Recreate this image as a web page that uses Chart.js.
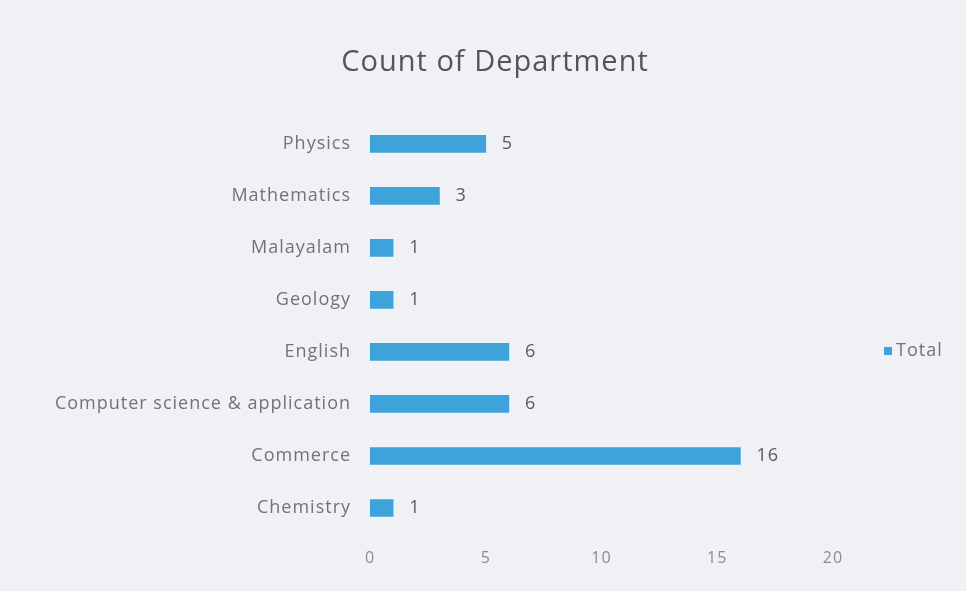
<!DOCTYPE html>
<html>
<head>
<meta charset="utf-8">
<script src="https://cdn.jsdelivr.net/npm/chart.js@4.4.0/dist/chart.umd.min.js"></script>
<style>
  html, body { margin: 0; padding: 0; background: #f0f1f5; }
  #wrap { width: 966px; height: 591px; }
</style>
</head>
<body>
<div id="wrap"><canvas id="myChart1" width="966" height="591"></canvas></div>
<script>
  // Data
  const departments = ['Physics', 'Mathematics', 'Malayalam', 'Geology', 'English',
    'Computer science & application', 'Commerce', 'Chemistry'];
  const totals = [5, 3, 1, 1, 6, 6, 16, 1];
  const seriesName = 'Total';

  const barColor = '#3fa3db';
  const textColor = '#737373';
  const fontFamily = '"Open Sans", Lato, sans-serif';

  // the original text is set a little wide
  const wideText = {
    id: 'wideText',
    beforeDraw(chart) { chart.ctx.letterSpacing = '1px'; }
  };

  // value labels at the end of each bar
  const valueLabels = {
    id: 'valueLabels',
    afterDatasetsDraw(chart) {
      const ctx = chart.ctx;
      const meta = chart.getDatasetMeta(0);
      ctx.save();
      ctx.font = '18px ' + fontFamily;
      ctx.fillStyle = '#5a5a5a';
      ctx.textBaseline = 'middle';
      ctx.textAlign = 'left';
      meta.data.forEach((bar, i) => {
        ctx.fillText(String(totals[i]), bar.x + 16, bar.y);
      });
      ctx.restore();
    }
  };

  // legend drawn on the right side
  const sideLegend = {
    id: 'sideLegend',
    afterDraw(chart) {
      const ctx = chart.ctx;
      const y = 351;
      ctx.save();
      ctx.fillStyle = barColor;
      ctx.fillRect(884, y - 4, 8, 8);
      ctx.font = '18px ' + fontFamily;
      ctx.fillStyle = textColor;
      ctx.textBaseline = 'middle';
      ctx.fillText(seriesName, 896, y);
      ctx.restore();
    }
  };

  const config1 = {
    type: 'bar',
    data: {
      labels: departments,
      datasets: [
        {
          label: seriesName,
          data: totals,
          backgroundColor: barColor,
          barThickness: 17
        }
      ]
    },
    options: {
      indexAxis: 'y',
      responsive: false,
      animation: false,
      layout: { padding: { left: 24, right: 0, top: 0, bottom: 0 } },
      plugins: {
        legend: { display: false },
        tooltip: { enabled: false },
        title: {
          display: true,
          text: 'Count of Department',
          color: '#555',
          font: { family: fontFamily, size: 29, weight: 'normal' },
          padding: { top: 45, bottom: 38 }
        }
      },
      scales: {
        x: {
          min: 0,
          max: 20,
          ticks: { stepSize: 5, color: '#8c8c8c', font: { family: fontFamily, size: 16 }, padding: 15 },
          grid: { display: false, drawTicks: false },
          border: { display: false },
          afterFit(scale) { scale.height = 57; }
        },
        y: {
          ticks: { color: textColor, font: { family: fontFamily, size: 18 }, padding: 19 },
          grid: { display: false, drawTicks: false },
          border: { display: false },
          afterFit(scale) { scale.width = 346; }
        },
        // empty axis on the right that keeps room for the legend
        side: {
          type: 'linear',
          position: 'right',
          ticks: { display: false },
          grid: { display: false, drawTicks: false },
          border: { display: false },
          afterFit(scale) { scale.width = 133; }
        }
      }
    },
    plugins: [wideText, valueLabels, sideLegend]
  };

  const ctx = document.getElementById('myChart1').getContext('2d');
  const myChart1 = new Chart(ctx, config1);
</script>
</body>
</html>
